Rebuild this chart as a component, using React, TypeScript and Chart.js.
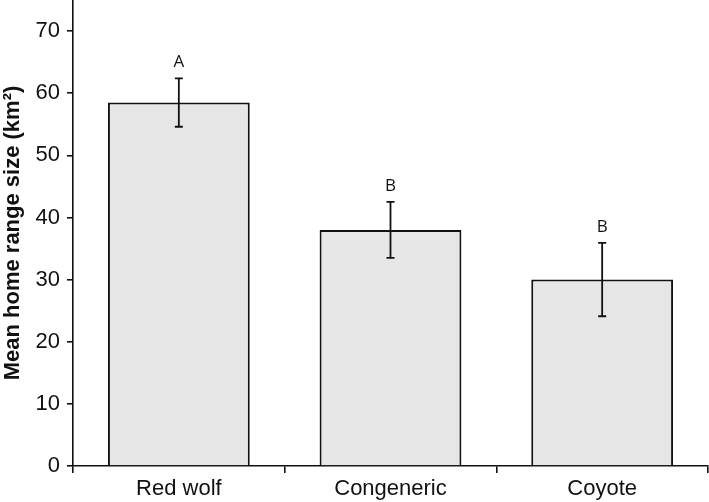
import React, { useEffect, useRef } from "react";
import { Chart, registerables } from "chart.js";

Chart.register(...registerables);

const categories = ["Red wolf", "Congeneric", "Coyote"];
const means = [58.5, 38.0, 30.0];
const errors = [3.9, 4.5, 5.9];
const letters = ["A", "B", "B"];
const yTicks = [0, 10, 20, 30, 40, 50, 60, 70];

const errorBarPlugin = {
  id: "errorBars",
  afterDatasetsDraw(chart: any) {
    const ctx = chart.ctx;
    const x = chart.scales.x;
    const y = chart.scales.y;
    ctx.save();
    ctx.strokeStyle = "#111";
    ctx.lineWidth = 1.8;
    means.forEach((m, i) => {
      const cx = x.getPixelForValue(i);
      const top = y.getPixelForValue(m + errors[i]);
      const bot = y.getPixelForValue(m - errors[i]);
      ctx.beginPath();
      ctx.moveTo(cx, top);
      ctx.lineTo(cx, bot);
      ctx.moveTo(cx - 4, top);
      ctx.lineTo(cx + 4, top);
      ctx.moveTo(cx - 4, bot);
      ctx.lineTo(cx + 4, bot);
      ctx.stroke();
      ctx.fillStyle = "#111";
      ctx.font = "17px 'Open Sans', sans-serif";
      ctx.textAlign = "center";
      ctx.textBaseline = "alphabetic";
      ctx.fillText(letters[i], cx, top - 11);
    });
    ctx.restore();
  },
};

export default function App() {
  const ref = useRef<HTMLCanvasElement>(null);
  useEffect(() => {
    document.body.style.margin = "0";
    const chart = new Chart(ref.current!, {
      type: "bar",
      data: {
        labels: categories,
        datasets: [
          {
            data: means,
            backgroundColor: "#e6e6e6",
            borderColor: "#111",
            borderWidth: 2,
            categoryPercentage: 0.67,
            barPercentage: 1,
          },
        ],
      },
      plugins: [errorBarPlugin],
      options: {
        responsive: false,
        animation: false,
        layout: { padding: { top: 0, right: 1, left: 0, bottom: 0 } },
        plugins: { legend: { display: false }, tooltip: { enabled: false } },
        scales: {
          x: {
            offset: true,
            grid: {
              offset: true,
              drawOnChartArea: false,
              drawTicks: true,
              tickLength: 7,
              color: "#111",
              lineWidth: 1.6,
            },
            border: { color: "#111", width: 1.6 },
            ticks: {
              color: "#111",
              font: { family: "'Liberation Sans', Arial, sans-serif", size: 22 },
              padding: 3,
            },
            afterFit(scale: any) {
              scale.height = 36;
              scale.paddingLeft = 0;
              scale.paddingRight = 0;
            },
          },
          y: {
            min: 0,
            max: 75,
            afterBuildTicks(scale: any) {
              scale.ticks = yTicks.map((v) => ({ value: v }));
            },
            grid: {
              drawOnChartArea: false,
              drawTicks: true,
              tickLength: 6,
              color: "#111",
              lineWidth: 1.6,
            },
            border: { color: "#111", width: 1.6 },
            ticks: {
              color: "#111",
              font: { family: "'Liberation Sans', Arial, sans-serif", size: 22 },
              padding: 7,
            },
            title: {
              display: true,
              text: "Mean home range size (km²)",
              color: "#111",
              font: { family: "'Liberation Sans', Arial, sans-serif", size: 22, weight: "bold" },
              padding: { top: 0, bottom: 2 },
            },
            afterFit(scale: any) {
              scale.width = 73;
              scale.paddingTop = 0;
              scale.paddingBottom = 0;
            },
          },
        },
      },
    });
    return () => chart.destroy();
  }, []);
  return <canvas ref={ref} width={709} height={502} style={{ display: "block" }} />;
}
